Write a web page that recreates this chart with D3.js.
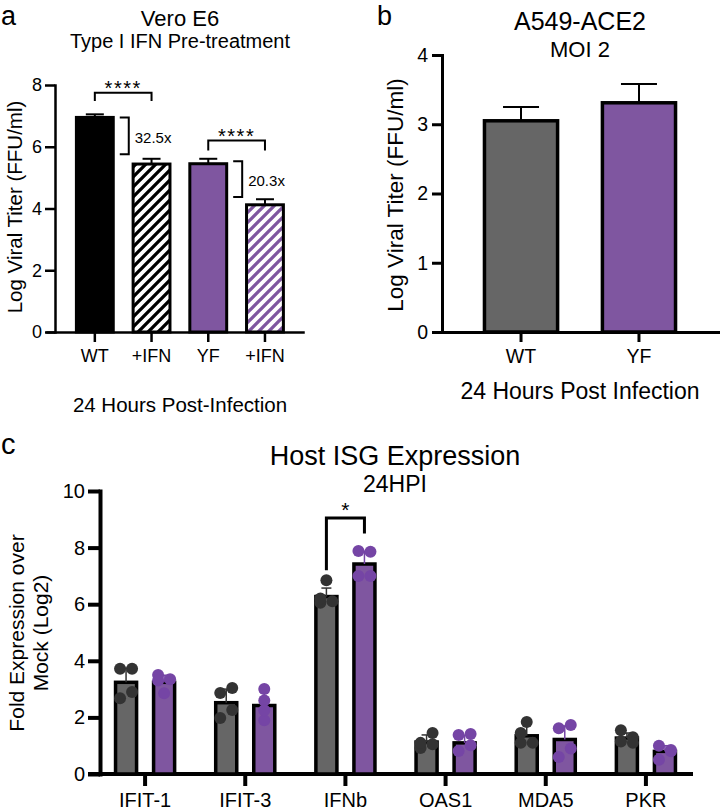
<!DOCTYPE html>
<html>
<head>
<meta charset="utf-8">
<script src="https://cdn.jsdelivr.net/npm/d3@7"></script>
<style>
  body { margin: 0; background: #fff; }
  svg { display: block; }
  text { font-family: "Liberation Sans", Arial, sans-serif; fill: #000; }
</style>
</head>
<body>
<svg id="fig" width="720" height="810"></svg>
<script>
// ---- panel a data ----
var aGroups = ["WT", "WT+IFN", "YF", "YF+IFN"];
var aLabels = ["WT", "+IFN", "YF", "+IFN"];
var aValues = [6.95, 5.44, 5.45, 4.12];
var aErrors = [0.1, 0.17, 0.16, 0.18];
var aTicks = [0, 2, 4, 6, 8];
var aSigPairs = [["WT", "WT+IFN"], ["YF", "YF+IFN"]];
var aSigLevels = [7.75, 6.2];
var aSigLegs = [7.48, 5.88];
var aSigLabels = ["****", "****"];
var aFoldBars = ["WT", "YF"];
var aFoldRanges = [[6.95, 5.76], [5.53, 4.37]];
var aFoldLabels = ["32.5x", "20.3x"];

// ---- panel b data ----
var bGroups = ["WT", "YF"];
var bValues = [3.05, 3.31];
var bErrors = [0.2, 0.27];
var bTicks = [0, 1, 2, 3, 4];

// ---- panel c data ----
var cGenes = ["IFIT-1", "IFIT-3", "IFNb", "OAS1", "MDA5", "PKR"];
var cSeries = ["WT", "YF"];
var cWtMean = [3.24, 2.52, 6.27, 1.13, 1.35, 1.27];
var cWtSd = [0.5, 0.48, 0.3, 0.25, 0.45, 0.18];
var cYfMean = [3.24, 2.42, 7.42, 1.1, 1.22, 0.8];
var cYfSd = [0.25, 0.48, 0.45, 0.27, 0.48, 0.2];
var cWtPts = [[3.72, 3.72, 2.68, 2.9], [2.86, 3.04, 1.98, 2.26], [6.85, 6.05, 6.1, 6.2],
              [0.92, 1.45, 1.1, 1.05], [1.84, 1.45, 1.1, 1.1], [1.55, 1.3, 1.15, 1.1]];
var cYfPts = [[3.5, 3.35, 2.85, 3.3], [2.6, 3.0, 1.9, 2.25], [7.88, 7.85, 7.0, 7.0],
              [1.38, 1.41, 0.81, 1.02], [1.62, 1.73, 0.6, 0.9], [1.0, 0.85, 0.5, 0.8]];
var cTicks = [0, 2, 4, 6, 8, 10];
var cSigGene = "IFNb";
var cSigLevel = 9.05;
var cSigLegs = [7.2, 8.5];
var cSigLabel = "*";

var purple = "#7f56a0";
var grey = "#666666";
var dotPurple = "#7545a5";
var dotGrey = "#333333";

var svg = d3.select("#fig");

var defs = svg.append("defs");
function hatch(id, color) {
  var p = defs.append("pattern")
    .attr("id", id)
    .attr("patternUnits", "userSpaceOnUse")
    .attr("width", 10).attr("height", 10);
  p.append("rect").attr("width", 10).attr("height", 10).attr("fill", "#fff");
  p.append("path")
    .attr("d", "M-2.5,2.5 l5,-5 M0,10 l10,-10 M7.5,12.5 l5,-5")
    .attr("stroke", color).attr("stroke-width", 3.3);
}
hatch("hatchBlack", "#000");
hatch("hatchPurple", purple);

function label(x, y, txt, size, anchor, weight) {
  return svg.append("text")
    .attr("x", x).attr("y", y)
    .attr("text-anchor", anchor || "middle")
    .style("font-size", size + "px")
    .style("font-weight", weight || "normal")
    .text(txt);
}

function styleAxis(g, width, fontSize) {
  g.attr("font-family", null).attr("font-size", null);
  g.select(".domain").attr("stroke", "#000").attr("stroke-width", width).attr("stroke-linecap", "square");
  g.selectAll(".tick line").attr("stroke", "#000").attr("stroke-width", width);
  g.selectAll(".tick text").style("font-size", fontSize + "px").attr("fill", "#000");
}

// =================== panel a ===================
label(1, 25, "a", 27, "start");
label(180, 26, "Vero E6", 22);
label(180, 48, "Type I IFN Pre-treatment", 20);

var ax = d3.scaleBand()
  .domain(aGroups)
  .range([47, 303])
  .paddingInner(0.35)
  .paddingOuter(0.432)
  .align(0.6);
var ay = d3.scaleLinear().domain([0, 8]).range([332, 85]);

svg.append("g")
  .attr("transform", "translate(0,332)")
  .call(d3.axisBottom(ax).tickSize(10).tickSizeOuter(0).tickPadding(7)
    .tickFormat(function (d, i) { return aLabels[i]; }))
  .call(styleAxis, 2.5, 18);

svg.append("g")
  .attr("transform", "translate(55,0)")
  .call(d3.axisLeft(ay).tickValues(aTicks).tickSize(10).tickSizeOuter(0).tickPadding(3)
    .tickFormat(d3.format("d")))
  .call(styleAxis, 2.5, 18);

var aFills = ["#000", "url(#hatchBlack)", purple, "url(#hatchPurple)"];

// error bars
aGroups.forEach(function (g, i) {
  var cx = ax(g) + ax.bandwidth() / 2;
  svg.append("line")
    .attr("x1", cx).attr("x2", cx)
    .attr("y1", ay(aValues[i])).attr("y2", ay(aValues[i] + aErrors[i]))
    .attr("stroke", "#000").attr("stroke-width", 2);
  svg.append("line")
    .attr("x1", cx - 9).attr("x2", cx + 9)
    .attr("y1", ay(aValues[i] + aErrors[i])).attr("y2", ay(aValues[i] + aErrors[i]))
    .attr("stroke", "#000").attr("stroke-width", 2);
});

svg.selectAll(".abar")
  .data(aGroups)
  .enter().append("rect")
  .attr("class", "abar")
  .attr("x", function (d) { return ax(d); })
  .attr("y", function (d, i) { return ay(aValues[i]); })
  .attr("width", ax.bandwidth())
  .attr("height", function (d, i) { return ay(0) - ay(aValues[i]); })
  .attr("fill", function (d, i) { return aFills[i]; })
  .attr("stroke", "#000")
  .attr("stroke-width", 3);

// significance brackets
aSigPairs.forEach(function (p, i) {
  var x1 = ax(p[0]) + ax.bandwidth() / 2, x2 = ax(p[1]) + ax.bandwidth() / 2;
  svg.append("path")
    .attr("d", "M" + x1 + "," + ay(aSigLegs[i]) + "V" + ay(aSigLevels[i]) + "H" + x2 + "V" + ay(aSigLegs[i]))
    .attr("fill", "none").attr("stroke", "#000").attr("stroke-width", 2);
  label((x1 + x2) / 2, ay(aSigLevels[i]) + 2, aSigLabels[i], 20).style("letter-spacing", "1.5px");
});

// fold change brackets
aFoldBars.forEach(function (g, i) {
  var xr = ax(g) + ax.bandwidth() + 1.5;
  var y1 = ay(aFoldRanges[i][0]), y2 = ay(aFoldRanges[i][1]);
  svg.append("path")
    .attr("d", "M" + (xr + 5) + "," + y1 + "H" + (xr + 14) + "V" + y2 + "H" + (xr + 5))
    .attr("fill", "none").attr("stroke", "#000").attr("stroke-width", 2);
  label(xr + 20, (y1 + y2) / 2 + 7, aFoldLabels[i], 15, "start");
});

label(180, 412, "24 Hours Post-Infection", 20.5);
label(0, 0, "Log Viral Titer (FFU/ml)", 20.5)
  .attr("transform", "translate(22,207) rotate(-90)");

// =================== panel b ===================
label(377, 25, "b", 27, "start");
label(580, 30, "A549-ACE2", 25);
label(580, 57, "MOI 2", 22);

var bx = d3.scaleBand()
  .domain(bGroups)
  .range([442, 718])
  .paddingInner(0.38)
  .paddingOuter(0.36);
var by = d3.scaleLinear().domain([0, 4]).range([332, 55]);

svg.append("g")
  .attr("transform", "translate(0,332)")
  .call(d3.axisBottom(bx).tickSize(10).tickSizeOuter(0).tickPadding(7))
  .call(styleAxis, 3, 19.5);

svg.append("g")
  .attr("transform", "translate(442,0)")
  .call(d3.axisLeft(by).tickValues(bTicks).tickSize(10).tickSizeOuter(0).tickPadding(4)
    .tickFormat(d3.format("d")))
  .call(styleAxis, 3, 19.5);

var bFills = [grey, purple];
bGroups.forEach(function (g, i) {
  var cx = bx(g) + bx.bandwidth() / 2;
  svg.append("line")
    .attr("x1", cx).attr("x2", cx)
    .attr("y1", by(bValues[i])).attr("y2", by(bValues[i] + bErrors[i]))
    .attr("stroke", "#000").attr("stroke-width", 2);
  svg.append("line")
    .attr("x1", cx - 18).attr("x2", cx + 18)
    .attr("y1", by(bValues[i] + bErrors[i])).attr("y2", by(bValues[i] + bErrors[i]))
    .attr("stroke", "#000").attr("stroke-width", 2);
});

svg.selectAll(".bbar")
  .data(bGroups)
  .enter().append("rect")
  .attr("class", "bbar")
  .attr("x", function (d) { return bx(d); })
  .attr("y", function (d, i) { return by(bValues[i]); })
  .attr("width", bx.bandwidth())
  .attr("height", function (d, i) { return by(0) - by(bValues[i]); })
  .attr("fill", function (d, i) { return bFills[i]; })
  .attr("stroke", "#000")
  .attr("stroke-width", 3.5);

label(580, 399, "24 Hours Post Infection", 23);
label(0, 0, "Log Viral Titer (FFU/ml)", 22.5)
  .attr("transform", "translate(403,195) rotate(-90)");

// =================== panel c ===================
label(1, 454, "c", 29, "start");
label(395, 465, "Host ISG Expression", 27);
label(395, 492, "24HPI", 23);

var cx = d3.scaleBand().domain(cGenes).range([95, 696]).padding(0);
var cs = d3.scaleBand().domain(cSeries).range([0, cx.bandwidth()])
  .paddingInner(0.447).paddingOuter(0.54);
var cy = d3.scaleLinear().domain([0, 10]).range([774, 491]);

var cxAxis = svg.append("g")
  .attr("transform", "translate(0,774)")
  .call(d3.axisBottom(cx).tickSize(12).tickSizeOuter(0).tickPadding(7))
  .call(styleAxis, 4, 20);
cxAxis.select(".domain").attr("d", "M" + (cx.range()[0] - 7) + ",0H" + (cx.range()[1] - 3)).attr("stroke-linecap", "butt");

svg.append("g")
  .attr("transform", "translate(100,0)")
  .call(d3.axisLeft(cy).tickValues(cTicks).tickSize(12).tickSizeOuter(0).tickPadding(3))
  .call(styleAxis, 4, 20);

var cRows = [];
cGenes.forEach(function (g, i) {
  cRows.push({ gene: g, s: "WT", mean: cWtMean[i], sd: cWtSd[i], pts: cWtPts[i], fill: grey, dot: dotGrey });
  cRows.push({ gene: g, s: "YF", mean: cYfMean[i], sd: cYfSd[i], pts: cYfPts[i], fill: purple, dot: dotPurple });
});

function cCenter(d) { return cx(d.gene) + cs(d.s) + cs.bandwidth() / 2; }

svg.selectAll(".cbar")
  .data(cRows)
  .enter().append("rect")
  .attr("class", "cbar")
  .attr("x", function (d) { return cx(d.gene) + cs(d.s); })
  .attr("y", function (d) { return cy(d.mean); })
  .attr("width", cs.bandwidth())
  .attr("height", function (d) { return cy(0) - cy(d.mean); })
  .attr("fill", function (d) { return d.fill; })
  .attr("stroke", "#000")
  .attr("stroke-width", 3.5);

// error bars (SD, upward)
cRows.forEach(function (d) {
  var x0 = cCenter(d);
  svg.append("line")
    .attr("x1", x0).attr("x2", x0)
    .attr("y1", cy(d.mean)).attr("y2", cy(d.mean + d.sd))
    .attr("stroke", d.dot).attr("stroke-width", 1.5);
  svg.append("line")
    .attr("x1", x0 - 5).attr("x2", x0 + 5)
    .attr("y1", cy(d.mean + d.sd)).attr("y2", cy(d.mean + d.sd))
    .attr("stroke", d.dot).attr("stroke-width", 1.5);
});

// points, spread left / right when crowded
cRows.forEach(function (d) {
  var k = 0;
  d.pts.forEach(function (v, j) {
    var alone = d.pts.every(function (w, m) { return m === j || Math.abs(w - v) > 0.35; });
    var off = alone ? 0 : (k++ % 2 === 0 ? -6 : 6);
    svg.append("circle")
      .attr("cx", cCenter(d) + off)
      .attr("cy", cy(v))
      .attr("r", 6)
      .attr("fill", d.dot);
  });
});

// significance bracket
(function () {
  var x1 = cx(cSigGene) + cs("WT") + cs.bandwidth() / 2;
  var x2 = cx(cSigGene) + cs("YF") + cs.bandwidth() / 2;
  svg.append("path")
    .attr("d", "M" + x1 + "," + cy(cSigLegs[0]) + "V" + cy(cSigLevel) + "H" + x2 + "V" + cy(cSigLegs[1]))
    .attr("fill", "none").attr("stroke", "#000").attr("stroke-width", 3);
  label((x1 + x2) / 2, cy(cSigLevel) - 1, cSigLabel, 21);
})();

var cyl = svg.append("text")
  .attr("transform", "translate(24,633) rotate(-90)")
  .attr("text-anchor", "middle")
  .style("font-size", "21px");
cyl.append("tspan").attr("x", 0).attr("y", 0).text("Fold Expression over");
cyl.append("tspan").attr("x", 0).attr("y", 24).text("Mock (Log2)");
</script>
</body>
</html>
